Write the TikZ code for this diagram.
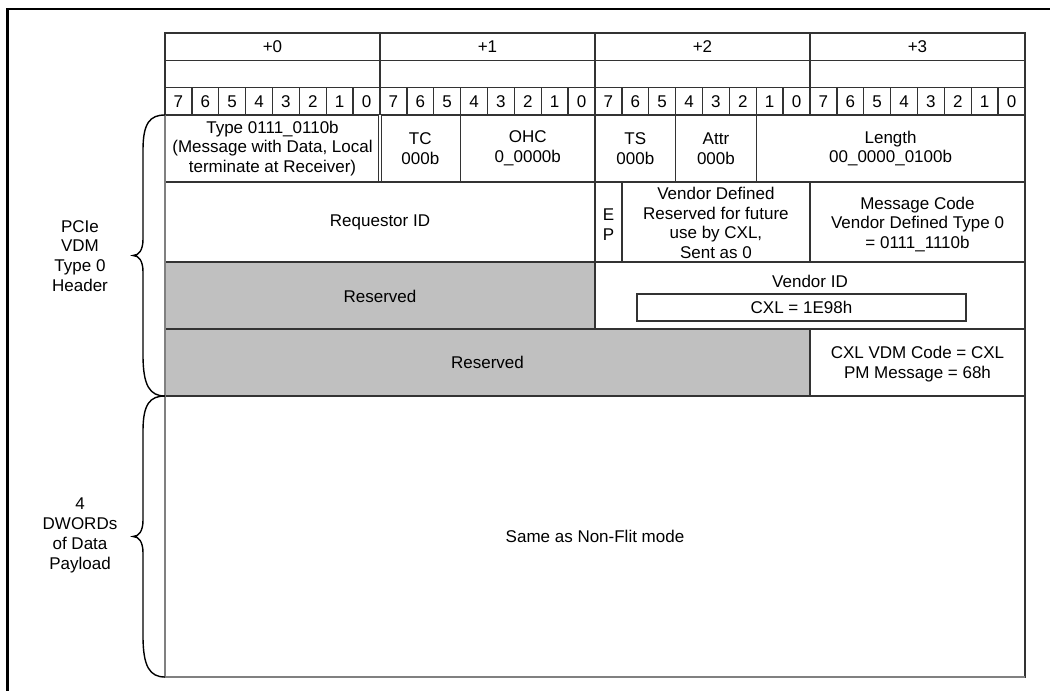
\documentclass[tikz,border=0pt]{standalone}
\usepackage{fontspec}
\setmainfont{Liberation Sans}
\usetikzlibrary{positioning,calc}
\definecolor{resgray}{RGB}{192,192,192}

\tikzset{
  pktbrace/.pic={
    \draw[line width=0.7pt] (0,0) .. controls (-15,0) and (-22,8) .. (-22,35)
      -- (-22,124) .. controls (-22,135) and (-26,140.5) .. (-32,140.5)
      .. controls (-26,140.5) and (-22,146) .. (-22,157)
      -- (-22,240) .. controls (-22,271) and (-15,281) .. (0,281);
  }
}

\begin{document}
\begin{tikzpicture}[x=0.5pt,y=-0.5pt,
    every node/.style={font=\fontsize{8.5}{9.9}\selectfont, align=center, inner sep=0pt},
    cell/.style={draw=black!80, line width=0.65pt},
    edge/.style={draw=black!50, line width=0.65pt},
    res/.style={fill=resgray}]

    \useasboundingbox (0,0) rectangle (1050,691);

    % Dimensions (one unit = one pixel of the figure)
    \def\xl{165}
    \def\bw{26.875}

    % Outer frame
    \draw[line width=1.3pt] (7.5,691) -- (7.5,9) -- (1050,9);

    % Byte offset rows
    \foreach \b in {0,...,3} {
        \draw[cell] ({\xl+\b*215},33) rectangle ({\xl+(\b+1)*215},60.5);
        \draw[cell] ({\xl+\b*215},60.5) rectangle ({\xl+(\b+1)*215},87.5);
        \node (byte\b) at ({\xl+\b*215+107.5},47) {+\b};
    }

    % Bit numbers
    \foreach \i in {0,...,31} {
        \pgfmathtruncatemacro{\bit}{7-mod(\i,8)}
        \draw[cell] ({\xl+\i*\bw},87.5) rectangle ({\xl+(\i+1)*\bw},115);
        \node (bit\i) at ({\xl+(\i+0.5)*\bw},101.3) {\bit};
    }

    % Shade reserved fields
    \fill[res] (165,262) rectangle (595,329);
    \fill[res] (165,329) rectangle (810,396);

    % DW0
    \draw[cell] (165,115) rectangle ({\xl+11*\bw},182);
    \draw[cell] ({\xl+11*\bw},115) rectangle (595,182);
    \draw[cell] (595,115) rectangle ({\xl+19*\bw},182);
    \draw[cell] ({\xl+19*\bw},115) rectangle ({\xl+22*\bw},182);
    \draw[cell] ({\xl+22*\bw},115) rectangle (1025,182);
    \draw[cell, double, double distance=1pt] (380,115) -- (380,182);

    % DW1
    \draw[cell] (165,182) rectangle (595,262);
    \draw[cell] (595,182) rectangle ({\xl+17*\bw},262);
    \draw[cell] ({\xl+17*\bw},182) rectangle (810,262);
    \draw[cell] (810,182) rectangle (1025,262);

    % DW2
    \draw[cell] (165,262) rectangle (595,329);
    \draw[cell] (595,262) rectangle (1025,329);

    % DW3
    \draw[cell] (165,329) rectangle (810,396);
    \draw[cell] (810,329) rectangle (1025,396);

    % Payload
    \draw[cell] (165,396) rectangle (1025,677);
    \draw[edge] (165,115) -- (165,677) -- (1025,677);

    % Field labels
    \node (type) at (272.5,148.5) {Type 0111\_0110b\\(Message with Data, Local\\terminate at Receiver)};
    \node (tc) at ({\xl+9.5*\bw},148.5) {TC\\000b};
    \node (ohc) at ({\xl+13.5*\bw},148.5) {OHC\\0\_0000b};
    \node (ts) at ({\xl+17.5*\bw},148.5) {TS\\000b};
    \node (attr) at ({\xl+20.5*\bw},148.5) {Attr\\000b};
    \node (len) at ({\xl+27*\bw},148.5) {Length\\00\_0000\_0100b};

    \node (reqid) at (380,222) {Requestor ID};
    \node (ep) at ({\xl+16.5*\bw},225) {E\\P};
    \node (vdef) at ({\xl+20.5*\bw},223) {Vendor Defined\\Reserved for future\\use by CXL,\\Sent as 0};
    \node (msgcode) at (917.5,224.5) {Message Code\\Vendor Defined Type 0\\= 0111\_1110b};

    \node (rsvd1) at (380,296) {Reserved};
    \node (vid) at (810,281) {Vendor ID};
    \node[draw=black!80, line width=0.65pt, minimum width=164.5pt, minimum height=13.5pt] (cxlid) at (801.5,307.5) {CXL = 1E98h};

    \node (rsvd2) at (487.5,362.5) {Reserved};
    \node (vdmcode) at (917.5,364) {CXL VDM Code = CXL\\PM Message = 68h};

    \node (payload) at (595,536) {Same as Non-Flit mode};

    % Braces and their labels
    \pic at (165,115) {pktbrace};
    \pic at (165,396) {pktbrace};
    \node (hdr) at (80,256) {PCIe\\VDM\\Type 0\\Header};
    \node (dwords) at (80,535.5) {4\\DWORDs\\of Data\\Payload};
\end{tikzpicture}
\end{document}
